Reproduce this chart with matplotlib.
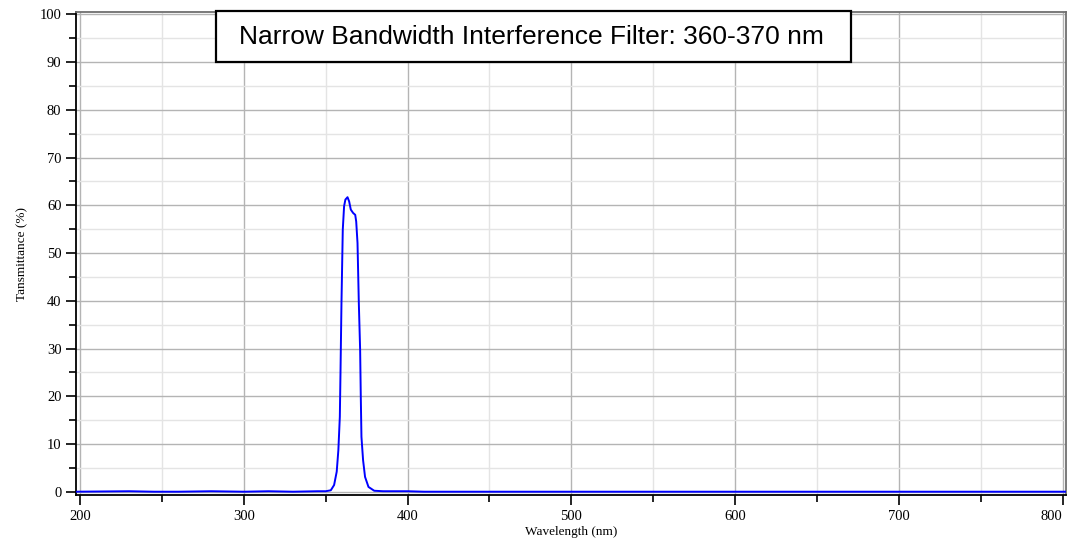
import numpy as np
import matplotlib.pyplot as plt
from matplotlib.ticker import MultipleLocator
from matplotlib.patches import Rectangle

# transmittance curve
wavelength = [197, 230, 245, 260, 280, 300, 315, 330, 345, 350, 353.1, 355.1, 356.7,
              357.7, 358.6, 359.0, 359.6, 360.4, 361.2, 362.0, 363.3, 364.3,
              365.3, 366.7, 368.0, 368.6, 369.4, 370.2, 371.0, 371.4, 371.8,
              372.8, 374.0, 376.1, 379.6, 385, 400, 410, 450, 500, 600, 700, 802]
transmittance = [0.0, 0.1, 0.0, 0.0, 0.1, 0.0, 0.1, 0.0, 0.1, 0.1, 0.3, 1.4, 4.2,
                 8.7, 15.7, 24.8, 39.5, 54.9, 59.8, 61.2, 61.7, 60.8,
                 59.1, 58.4, 58.0, 56.6, 52.1, 39.5, 29.7, 19.9, 11.5,
                 6.6, 3.1, 1.0, 0.2, 0.1, 0.1, 0.0, 0.0, 0.0, 0.0, 0.0, 0.0]

x_ticks = [200, 300, 400, 500, 600, 700, 800]
y_ticks = [0, 10, 20, 30, 40, 50, 60, 70, 80, 90, 100]

title = "Narrow Bandwidth Interference Filter: 360-370 nm"
serif = ["Liberation Serif", "DejaVu Serif"]

W, H = 1068, 538
fig = plt.figure(figsize=(W / 100, H / 100), dpi=100)
ax = fig.add_axes([0.0712, 0.0794, 0.9268, 0.8983])

ax.plot(wavelength, transmittance, color="#0000ff", lw=1.4, zorder=3)

ax.set_xlim(197.5, 802)
ax.set_ylim(-0.75, 100.5)
ax.set_xticks(x_ticks)
ax.set_yticks(y_ticks)
ax.xaxis.set_minor_locator(MultipleLocator(50))
ax.yaxis.set_minor_locator(MultipleLocator(5))
ax.grid(which="major", color="#b4b4b4", lw=1.0)
ax.grid(which="minor", color="#e4e4e4", lw=1.0)
ax.set_axisbelow(True)

ax.tick_params(which="major", length=7, width=1.2, direction="out", labelsize=10.5)
ax.tick_params(which="minor", length=5, width=1.2, direction="out")
for lab in ax.get_xticklabels() + ax.get_yticklabels():
    lab.set_family(serif)
# last x label is pulled inside the figure like in the original
ax.get_xticklabels()[-1].set_horizontalalignment("right")

for s in ["left", "bottom"]:
    ax.spines[s].set_color("black")
    ax.spines[s].set_linewidth(1.3)
for s in ["top", "right"]:
    ax.spines[s].set_color("#707070")
    ax.spines[s].set_linewidth(1.3)

ax.set_xlabel("Wavelength (nm)", family=serif, fontsize=9.5, labelpad=2)
ax.set_ylabel("Tansmittance (%)", family=serif, fontsize=9.5, labelpad=8)

# title box
fig.add_artist(Rectangle((216 / W, 1 - 62 / H), 635 / W, 51 / H,
                         transform=fig.transFigure, fc="white", ec="black",
                         lw=1.6, zorder=5))
fig.text(531 / W, 1 - 37 / H, title, ha="center", va="center",
         family=["Liberation Sans", "DejaVu Sans"], fontsize=19, zorder=6)

fig.savefig("out.png", dpi=100)
